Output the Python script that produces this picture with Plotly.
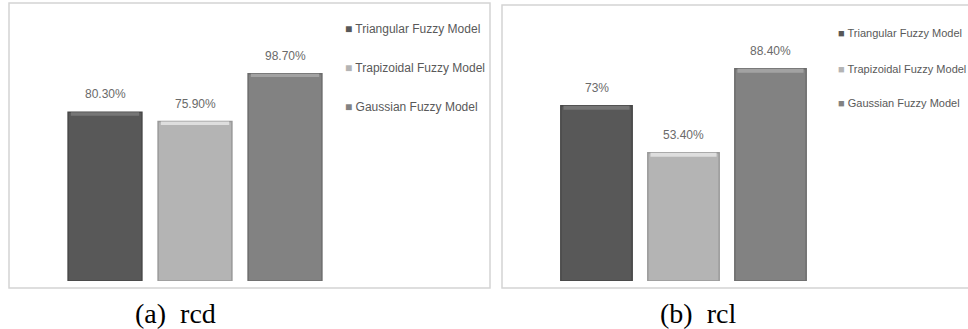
import plotly.graph_objects as go

# Model names shared by both panels
models = ["Triangular Fuzzy Model", "Trapizoidal Fuzzy Model", "Gaussian Fuzzy Model"]

# Panel (a): rcd
rcd_values = [80.3, 75.9, 98.7]
rcd_labels = ["80.30%", "75.90%", "98.70%"]

# Panel (b): rcl
rcl_values = [73.0, 53.4, 88.4]
rcl_labels = ["73%", "53.40%", "88.40%"]

captions = ["(a)  rcd", "(b)  rcl"]

bar_colors = ["#585858", "#b4b4b4", "#828282"]
edge_colors = ["#474747", "#999999", "#6c6c6c"]
cap_colors = ["#767676", "#dedede", "#a2a2a2"]   # lighter bevel strip on top of each bar
CAP = 1.6                                        # bevel strip thickness in axis units

W, H = 968, 329
label_font = dict(family="Liberation Sans, Arial, sans-serif", size=12, color="#6a6a6a")

fig = go.Figure()

panels = [
    dict(values=rcd_values, labels=rcd_labels, xa="x", ya="y",
         key_x=343, key_rows=[29, 68, 107], key_size=12, caption_x=175),
    dict(values=rcl_values, labels=rcl_labels, xa="x2", ya="y2",
         key_x=836, key_rows=[33, 69, 103], key_size=11, caption_x=698),
]

annotations = []
for k, p in enumerate(panels):
    key_font = dict(family="Liberation Sans, Arial, sans-serif", size=p["key_size"], color="#595959")
    for i, (name, v, lab) in enumerate(zip(models, p["values"], p["labels"])):
        fig.add_trace(go.Bar(
            x=[i], y=[v], name=name, width=0.82,
            xaxis=p["xa"], yaxis=p["ya"], showlegend=False,
            marker=dict(color=bar_colors[i], line=dict(color=edge_colors[i], width=1.5)),
            hoverinfo="skip",
        ))
        # bevel highlight along the top edge of the bar
        fig.add_trace(go.Bar(
            x=[i], y=[CAP], base=[v - CAP], width=0.76,
            xaxis=p["xa"], yaxis=p["ya"], showlegend=False,
            marker=dict(color=cap_colors[i], line=dict(width=0)),
            hoverinfo="skip",
        ))
        # value label above each bar
        annotations.append(dict(
            x=i, y=v, xref=p["xa"], yref=p["ya"], text=lab, showarrow=False,
            yanchor="bottom", yshift=9, font=label_font,
        ))
        # key entry: coloured square followed by the model name
        annotations.append(dict(
            x=p["key_x"] / W, y=1 - p["key_rows"][i] / H, xref="paper", yref="paper",
            text=f'<span style="color:{bar_colors[i]}">■</span> {name}',
            showarrow=False, xanchor="left", yanchor="middle", font=key_font,
        ))
    annotations.append(dict(
        x=p["caption_x"] / W, y=1 - 313 / H, xref="paper", yref="paper", text=captions[k],
        showarrow=False, xanchor="center", yanchor="middle",
        font=dict(family="Liberation Serif, Times New Roman, serif", size=28, color="#000000"),
    ))

axis_common = dict(showgrid=False, zeroline=False, showticklabels=False, showline=False,
                   fixedrange=True)

fig.update_layout(
    width=W, height=H,
    margin=dict(l=0, r=0, t=0, b=0),
    paper_bgcolor="white", plot_bgcolor="white",
    barmode="overlay",
    showlegend=False,
    xaxis=dict(domain=[60 / W, 330 / W], range=[-0.5, 2.5], **axis_common),
    yaxis=dict(domain=[48 / H, 1 - 71 / H], range=[0, 100], **axis_common),
    xaxis2=dict(domain=[553 / W, 814 / W], range=[-0.5, 2.5], **axis_common),
    yaxis2=dict(domain=[48 / H, 1 - 41 / H], range=[0, 100], **axis_common),
    annotations=annotations,
    shapes=[
        dict(type="rect", xref="paper", yref="paper",
             x0=9 / W, x1=490 / W, y0=1 - 288 / H, y1=1 - 3 / H,
             line=dict(color="#d4d4d4", width=1.5), layer="below"),
        dict(type="rect", xref="paper", yref="paper",
             x0=502 / W, x1=1.02, y0=1 - 288 / H, y1=1 - 5 / H,
             line=dict(color="#d4d4d4", width=1.5), layer="below"),
    ],
)

fig.write_html("out.html")
